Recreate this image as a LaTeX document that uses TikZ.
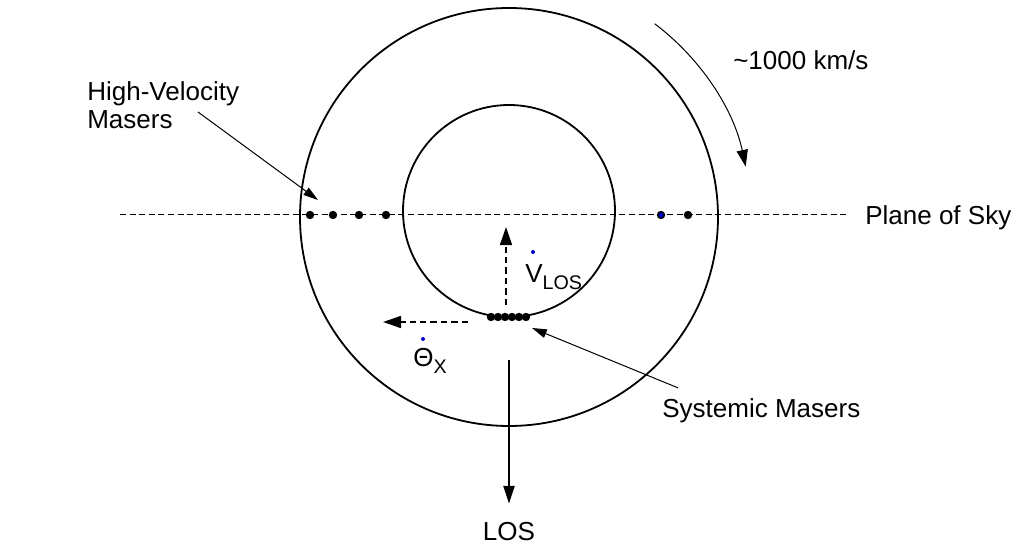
\documentclass[tikz,border=0pt]{standalone}
\usepackage{fontspec}
\setmainfont{Liberation Sans}
\usepackage{tikz}
\usepackage{xcolor}
\usetikzlibrary{arrows.meta,positioning}
\definecolor{ink}{HTML}{000000}
\definecolor{dotblue}{HTML}{0000CC}
\newcommand{\lowsub}[1]{\raisebox{-0.5ex}{\fontsize{14}{14}\selectfont #1}}
\tikzset{
  plaintext/.style={
    inner sep=0,
    font=\fontsize{18.5}{20}\selectfont,
    text=ink
  },
  maser/.style={circle, fill=ink, inner sep=0, minimum size=0.21cm},
  accent/.style={circle, fill=dotblue, inner sep=0, minimum size=0.1cm},
  diskring/.style={draw=ink, line width=0.045cm},
  skyline/.style={draw=ink, line width=0.025cm, dash pattern=on 0.15cm off 0.09cm},
  pointer/.style={-{Triangle[length=0.37cm,width=0.22cm]}, line width=0.025cm, draw=ink},
  spin/.style={-{Triangle[length=0.42cm,width=0.28cm]}, line width=0.025cm, draw=ink},
  motion/.style={-{Triangle[length=0.45cm,width=0.3cm]}, line width=0.04cm, draw=ink, dash pattern=on 0.16cm off 0.1cm},
  losarrow/.style={-{Triangle[length=0.44cm,width=0.28cm]}, line width=0.035cm, draw=ink}
}

\begin{document}
\begin{tikzpicture}[x=0.025cm,y=-0.025cm]
      \useasboundingbox (0,0) rectangle (1021,550);
      \coordinate (c) at (509,217);
      \draw[diskring] (c) circle (209);
      \draw[diskring] (509,211) circle (106);
      % labels
      \node[plaintext,anchor=base west] (sky) at (865,225) {Plane of Sky};
      \node[plaintext,anchor=base west] (speed) at (733,70) {\textasciitilde1000 km/s};
      \node[plaintext,anchor=north west,align=left] (hvlabel) at (87,81) {High-Velocity\\Masers};
      \node[plaintext,anchor=base west] (syslabel) at (662,417) {Systemic Masers};
      \node[plaintext,anchor=base] (los) at (509,540) {LOS};
      \node[plaintext,anchor=base west] (vlos) at (525,283) {V\lowsub{LOS}};
      \node[plaintext,anchor=base west] (thx) at (413,367) {Θ\lowsub{X}};
      \node[accent] (vdot) at (533,252) {};
      \node[accent] (thdot) at (423,339) {};
      % plane of sky
      \coordinate (skystart) at (120,215);
      \draw[skyline] (skystart) -- ([xshift=-0.4cm]sky.west |- skystart);
      % masers
      \foreach \x [count=\i] in {310,333,359,386}
        \node[maser] (hv\i) at (\x,215) {};
      \foreach \x [count=\i] in {661,688}
        \node[maser] (rv\i) at (\x,215) {};
      \node[accent,minimum size=0.12cm] at (rv1) {};
      \foreach \i in {1,...,6}
        \node[maser] (sys\i) at ({484+7*\i},317) {};
      % arrows
      \coordinate (hvtail) at (198,112);
      \coordinate (hvtip) at (318,200);
      \draw[pointer] (hvtail) -- (hvtip);
      \coordinate (systail) at ([xshift=0.4cm,yshift=0.25cm]syslabel.north west);
      \coordinate (systip) at (532,328);
      \draw[pointer] (systail) -- (systip);
      \coordinate (upfoot) at (506,305);
      \coordinate (uptip) at (506,227);
      \draw[motion] (upfoot) -- (uptip);
      \coordinate (leftfoot) at (468,322);
      \coordinate (lefttip) at (383,322);
      \draw[motion] (leftfoot) -- (lefttip);
      \coordinate (losfoot) at (509,360);
      \draw[losarrow] (losfoot) -- ([yshift=0.45cm]los.north);
      \draw[spin] (c) ++(-53:242) arc[start angle=-53,end angle=-12,radius=242];
    \end{tikzpicture}
\end{document}
